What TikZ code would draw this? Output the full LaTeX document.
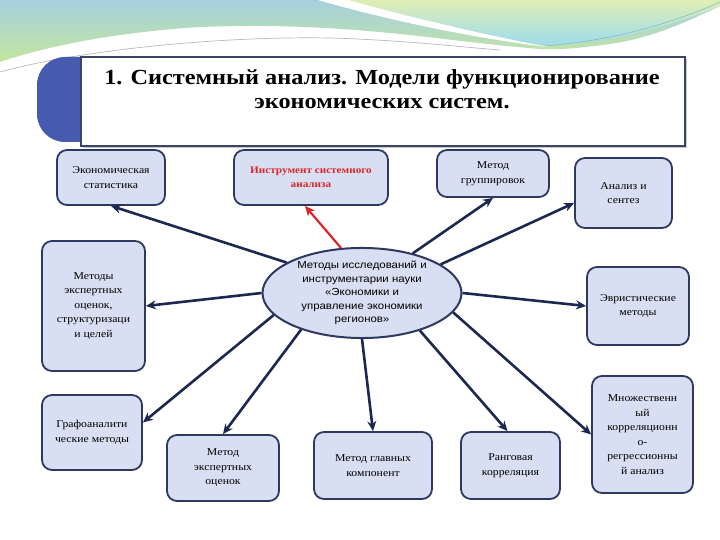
\documentclass[tikz,border=0pt]{standalone}
\usepackage{fontspec}
\setmainfont{Liberation Serif}
\newfontfamily\sansf[FakeStretch=1.12]{Liberation Sans}
\newfontfamily\boxf[FakeStretch=1.12]{Liberation Serif}
\newfontfamily\titlef[FakeStretch=1.13]{Liberation Serif}
\usetikzlibrary{shapes.geometric,arrows.meta,calc}
\definecolor{boxfill}{RGB}{217,223,242}
\definecolor{boxline}{RGB}{46,57,98}
\definecolor{arrowc}{RGB}{28,40,80}
\definecolor{redc}{RGB}{222,36,40}
\definecolor{titleblue}{RGB}{70,90,176}
\definecolor{titleline}{RGB}{60,68,100}
\tikzset{
  box/.style={draw=boxline, fill=boxfill, line width=1.8pt, rounded corners=10pt,
    align=center, inner sep=2pt, font=\boxf\fontsize{10.5}{14.5}\selectfont},
  oval/.style={ellipse, draw=boxline, fill=boxfill, line width=2pt,
    align=center, inner sep=0pt, font=\sansf\fontsize{10.2}{13.5}\selectfont},
  conn/.style={draw=arrowc, line width=2.6pt, -{Stealth[length=10pt,width=9pt]}},
  redconn/.style={draw=redc, line width=2.2pt, -{Stealth[length=10pt,width=9pt]}}
}
\begin{document}
\begin{tikzpicture}[x=1pt,y=-1pt]
\useasboundingbox (0,0) rectangle (720,540);
\fill[white] (0,0) rectangle (720,540);
% decorative background
\shade[top color={rgb,255:red,166;green,208;blue,222}, bottom color={rgb,255:red,196;green,230;blue,160}]
  (0,0) -- (720,0) -- (720,6) .. controls (680,25) and (650,38) .. (610,44)
  .. controls (580,48) and (560,50) .. (540,49)
  .. controls (480,44) and (440,38) .. (400,34)
  .. controls (340,28) and (280,24) .. (200,27)
  .. controls (120,32) and (50,45) .. (0,62) -- cycle;
\shade[top color={rgb,255:red,224;green,238;blue,182}, bottom color={rgb,255:red,158;green,220;blue,236}]
  (336,0) -- (720,0) -- (720,6) .. controls (680,22) and (640,34) .. (600,40)
  .. controls (570,44) and (555,45) .. (545,45)
  .. controls (470,35) and (390,14) .. (336,0) -- cycle;
\fill[white] (318,0) .. controls (380,18) and (470,38) .. (548,47)
  .. controls (470,32) and (390,12) .. (348,0) -- cycle;
\draw[gray!55, line width=0.7pt] (0,72) .. controls (80,50) and (220,36) .. (330,38) .. controls (400,40) and (450,46) .. (500,50);
\draw[teal!50, line width=0.6pt] (545,46) .. controls (620,40) and (680,20) .. (720,2);
% title
\fill[titleblue, rounded corners=28pt] (37,57) rectangle (140,142);
\fill[gray!45] (83,59) rectangle (687,148);
\node[draw=titleline, fill=white, line width=1.6pt, minimum width=604pt, minimum height=89pt,
  inner sep=0pt, anchor=north west] (title) at (80,56) {};
\node[font=\titlef\bfseries\fontsize{21.5}{23.5}\selectfont, align=center] (ttext) at (382,89)
  {1. Системный анализ. Модели функционирование\\экономических систем.};
% boxes
\node[box, minimum width=108pt, minimum height=55pt] (stat) at (111,177.5) {Экономическая\\статистика};
\node[box, minimum width=154pt, minimum height=55pt, text=redc, font=\boxf\bfseries\fontsize{10}{14.5}\selectfont] (instr) at (311,177.5) {Инструмент системного\\анализа};
\node[box, minimum width=112pt, minimum height=47pt] (grup) at (493,173.5) {Метод\\группировок};
\node[box, minimum width=97pt, minimum height=70pt] (anal) at (623.5,193) {Анализ и\\сентез};
\node[box, minimum width=103pt, minimum height=130pt] (exp1) at (93.5,306) {Методы\\экспертных\\оценок,\\структуризаци\\и целей};
\node[oval, minimum width=199pt, minimum height=80pt] (ell) at (362,293) {Методы исследований и\\инструментарии науки\\«Экономики и\\управление экономики\\регионов»};
\node[box, minimum width=102pt, minimum height=78pt] (evr) at (638,306) {Эвристические\\методы};
\node[box, minimum width=100pt, minimum height=75pt] (graf) at (92,432.5) {Графоаналити\\ческие методы};
\node[box, minimum width=112pt, minimum height=66pt] (exp2) at (223,468) {Метод\\экспертных\\оценок};
\node[box, minimum width=118pt, minimum height=67pt] (glav) at (373,465.5) {Метод главных\\компонент};
\node[box, minimum width=99pt, minimum height=67pt] (rang) at (510.5,465.5) {Ранговая\\корреляция};
\node[box, minimum width=101pt, minimum height=117pt] (mnozh) at (642.5,434.5) {Множественн\\ый\\корреляционн\\о-\\регрессионны\\й анализ};
% connectors
\draw[conn] (ell.158) -- (stat.south);
\draw[redconn] (ell.115) -- ($(instr.south)+(-6,0)$);
\draw[conn] (ell.38) -- (grup.south);
\draw[conn] (ell.20) -- ($(anal.west)+(0,10)$);
\draw[conn] (ell.west) -- ($(exp1.east)+(0,0)$);
\draw[conn] (ell.east) -- (evr.west);
\draw[conn] (ell.194) -- ($(graf.east)+(0,-10)$);
\draw[conn] (ell.211) -- (exp2.north);
\draw[conn] (ell.south) -- (glav.north);
\draw[conn] (ell.-33) -- ($(rang.north)+(-3,0)$);
\draw[conn] (ell.-12) -- (mnozh.west);
\end{tikzpicture}
\end{document}
